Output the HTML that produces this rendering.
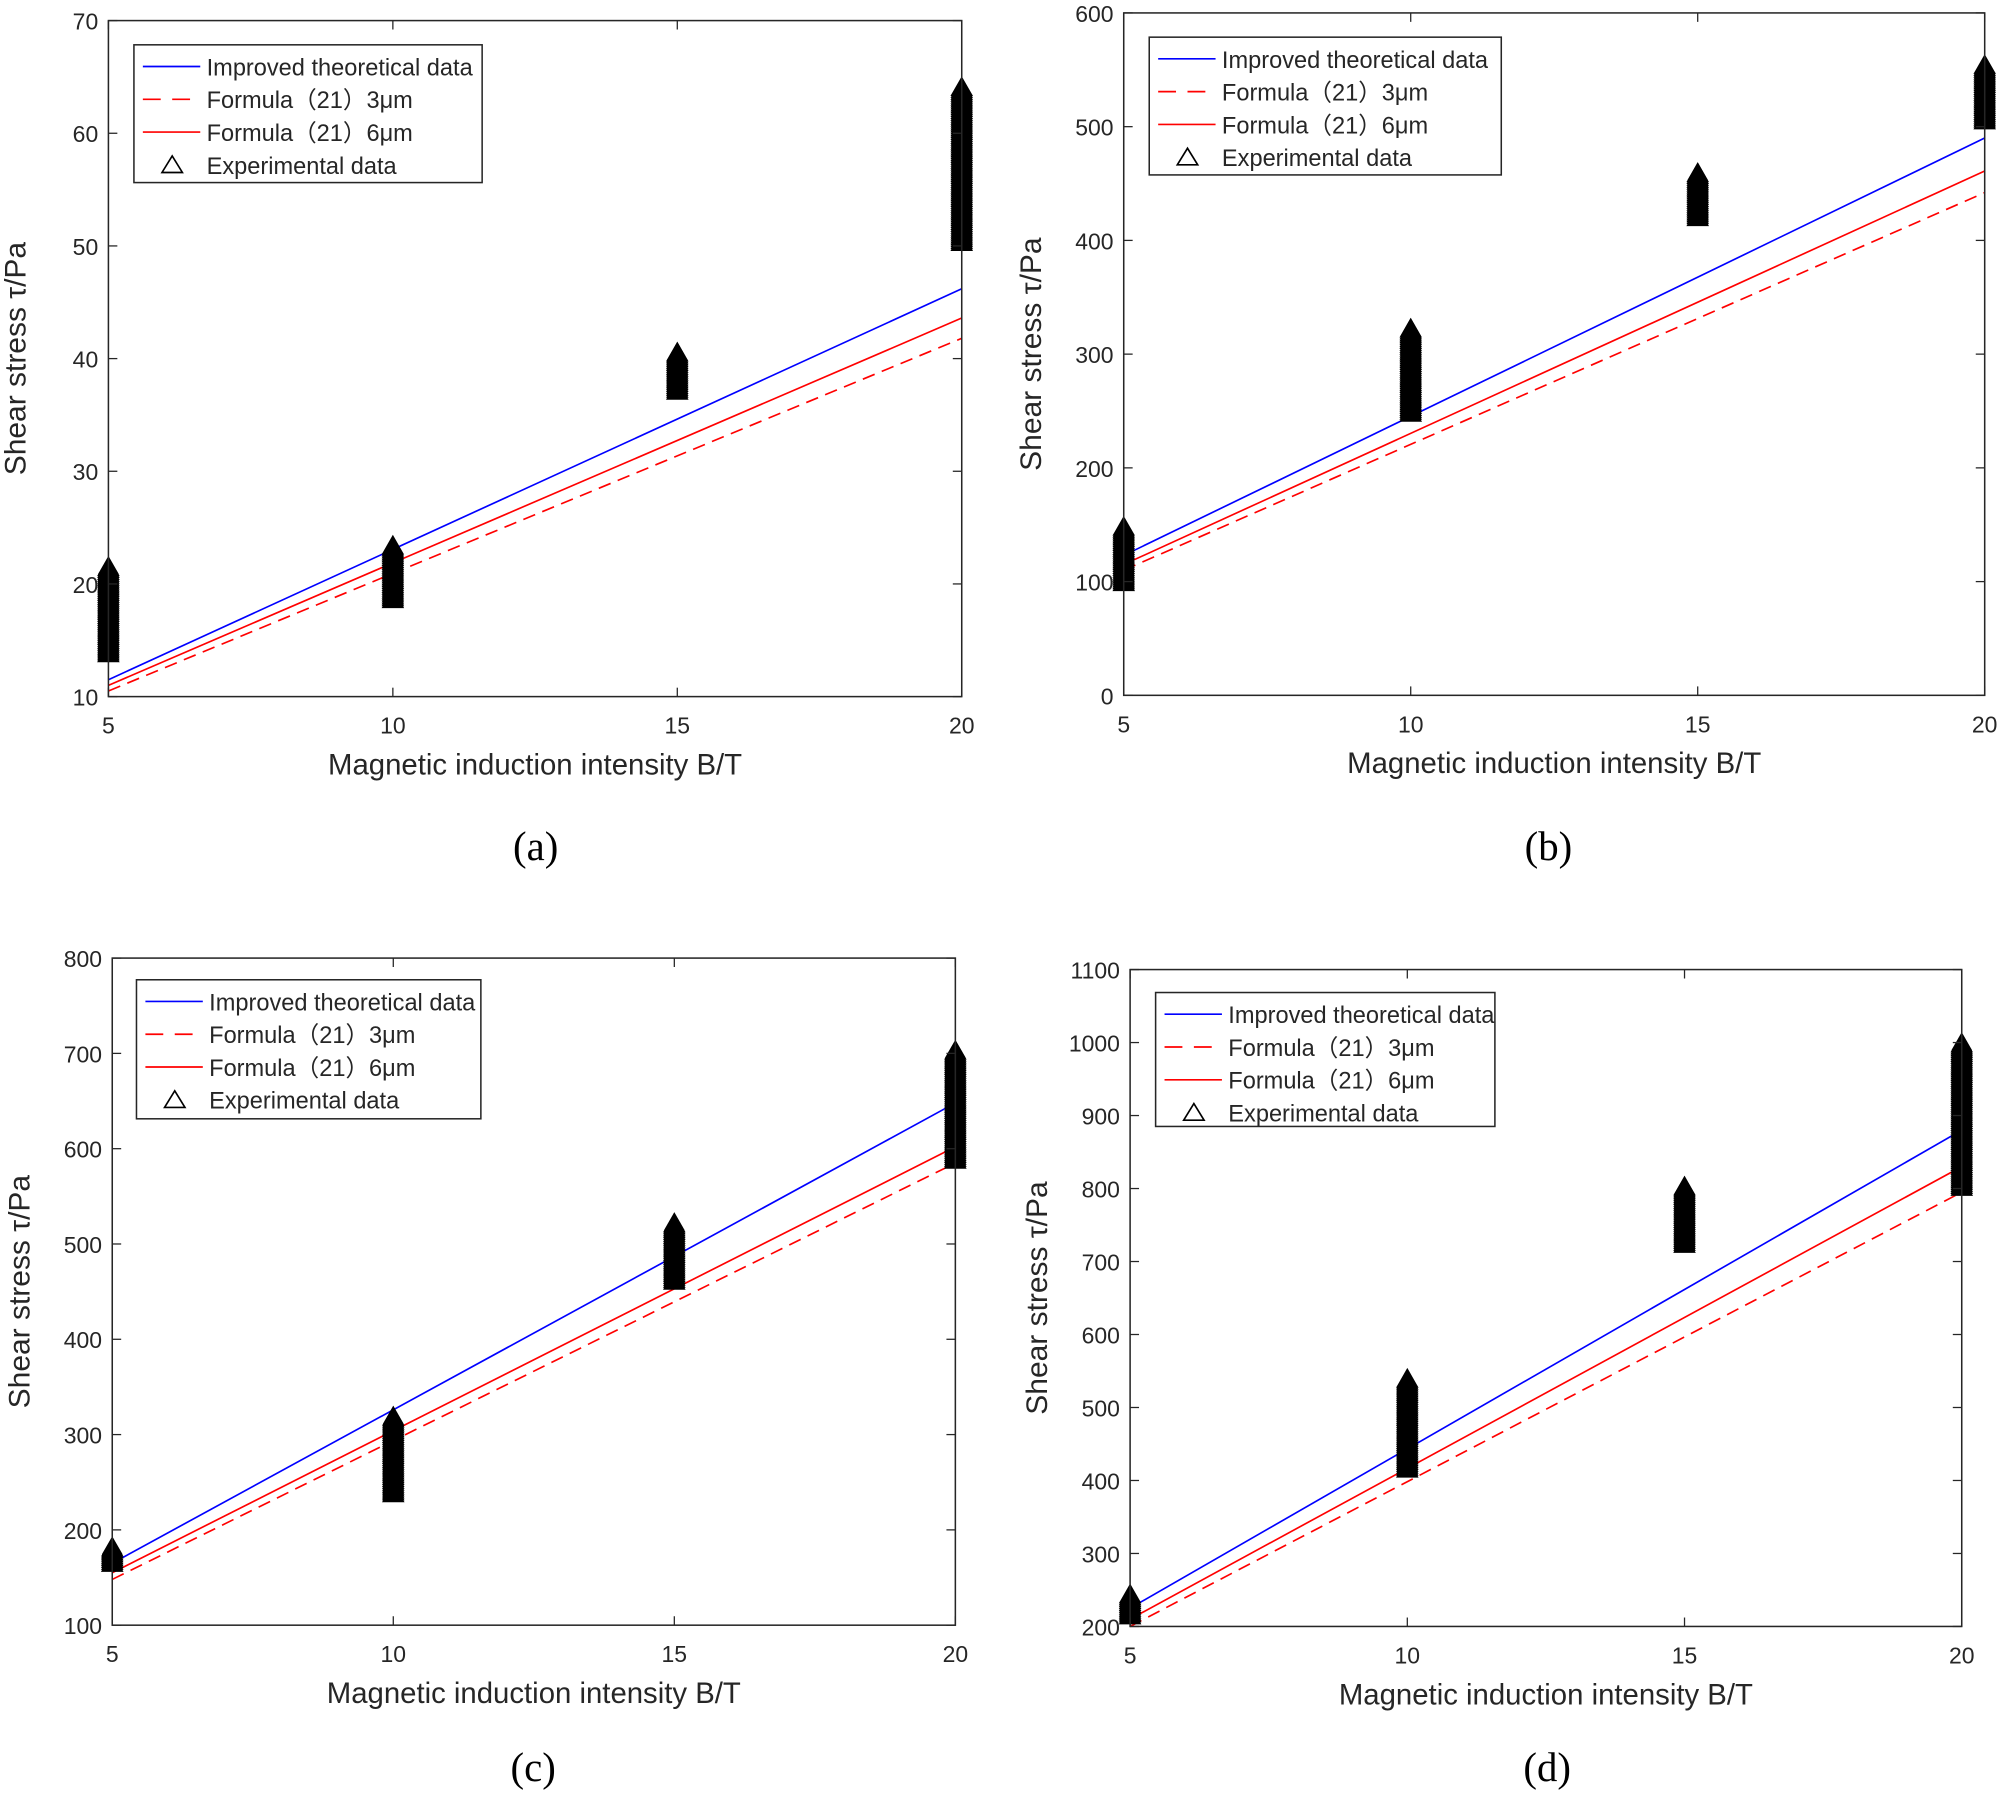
<!DOCTYPE html>
<html><head><meta charset="utf-8"><style>
html,body{margin:0;padding:0;background:#fff}
svg{display:block}
text{font-family:"Liberation Sans","Noto Sans CJK SC",sans-serif;fill:#262626}
.cap{font-family:"Liberation Serif",serif;fill:#000}
</style></head><body>
<svg id="chart" width="2000" height="1795" viewBox="0 0 1568 1407" xmlns="http://www.w3.org/2000/svg"></svg>
<script>
// shared x data
const xCats = [5, 10, 15, 20];
const xTicks = [5, 10, 15, 20];
// panel a
const aYTicks = [10, 20, 30, 40, 50, 60, 70];
const aImproved = [11.5, 46.2];
const aF3 = [10.5, 41.8];
const aF6 = [11.0, 43.6];
const aExpMin = [13.9, 18.7, 37.2, 50.4];
const aExpMax = [21.7, 23.5, 40.7, 64.2];
// panel b
const bYTicks = [0, 100, 200, 300, 400, 500, 600];
const bImproved = [123, 490];
const bF3 = [110, 442];
const bF6 = [115, 461];
const bExpMin = [100, 249, 421, 506];
const bExpMax = [149, 324, 461, 555];
// panel c
const cYTicks = [100, 200, 300, 400, 500, 600, 700, 800];
const cImproved = [165, 648];
const cF3 = [148, 585];
const cF6 = [155, 602];
const cExpMin = [166, 239, 462, 589];
const cExpMax = [184, 321, 524, 705];
// panel d
const dYTicks = [200, 300, 400, 500, 600, 700, 800, 900, 1000, 1100];
const dImproved = [225, 880];
const dF3 = [200, 795];
const dF6 = [210, 830];
const dExpMin = [216, 417, 725, 803];
const dExpMax = [245, 541, 805, 1002];

const NS = "http://www.w3.org/2000/svg";
const svg = document.getElementById('chart');
function mk(tag, attrs, parent, txt){
  const e = document.createElementNS(NS, tag);
  for (const k in attrs) e.setAttribute(k, attrs[k]);
  if (txt !== undefined) e.textContent = txt;
  (parent || svg).appendChild(e);
  return e;
}

function panel(id, box, yTicks, imp, f3, f6, eMin, eMax, leg, cap){
  const g = mk('g', {});
  
  
  const [L, T, R, B] = box;
  const y0 = yTicks[0], y1 = yTicks[yTicks.length - 1];
  const xs = v => L + (v - 5) / 15 * (R - L);
  const ys = v => B - (v - y0) / (y1 - y0) * (B - T);
  const ln = (arr, col, dash, name) => {
    const l = mk('line', {x1: xs(5), y1: ys(arr[0]), x2: xs(20), y2: ys(arr[1]), stroke: col, 'stroke-width': 1.3}, g);
    if (dash) l.setAttribute('stroke-dasharray', '10 6');
    
    
  };
  ln(imp, '#0000ff', false, 'improved-theoretical-line');
  ln(f3, '#ff0000', true, 'formula-3um-line');
  ln(f6, '#ff0000', false, 'formula-6um-line');
  xCats.forEach((xv, i) => {
    const sg = mk('g', {}, g);
    
    
    const top = ys(eMax[i]), bot = ys(eMin[i]);
    const cx = xs(xv);
    for (let yy = bot; yy >= top - 0.01; yy -= 1.5) {
      const p = mk('path', {d: `M${cx-8},${yy+7} L${cx},${yy-7} L${cx+8},${yy+7} Z`, fill: 'none', stroke: '#000', 'stroke-width': 1}, sg);
      
      
    }
    const r = mk('path', {d: `M${cx-8},${bot+7} L${cx-8},${top+7} L${cx},${top-7} L${cx+8},${top+7} L${cx+8},${bot+7} Z`, fill: '#000'}, sg);
    
    
  });
  const fr = mk('rect', {x: L, y: T, width: R - L, height: B - T, fill: 'none', stroke: '#262626', 'stroke-width': 1.2}, g);
  
  
  xTicks.forEach(v => {
    const x = xs(v);
    mk('line', {x1: x, y1: B, x2: x, y2: B - 7, stroke: '#262626'}, g);
    mk('line', {x1: x, y1: T, x2: x, y2: T + 7, stroke: '#262626'}, g);
    const t = mk('text', {x: x, y: B + 29, 'font-size': 18, 'text-anchor': 'middle'}, g, v);
    
    
  });
  yTicks.forEach(v => {
    const y = ys(v);
    mk('line', {x1: L, y1: y, x2: L + 7, y2: y, stroke: '#262626'}, g);
    mk('line', {x1: R, y1: y, x2: R - 7, y2: y, stroke: '#262626'}, g);
    const t = mk('text', {x: L - 8, y: y + 7, 'font-size': 18, 'text-anchor': 'end'}, g, v);
    
    
  });
  const xt = mk('text', {x: (L + R) / 2, y: B + 61, 'font-size': 23, 'text-anchor': 'middle'}, g, 'Magnetic induction intensity B/T');
  
  
  const yx = L - 65, yy = (T + B) / 2;
  const yt = mk('text', {x: yx, y: yy, 'font-size': 23.5, 'text-anchor': 'middle', transform: `rotate(-90 ${yx} ${yy})`}, g, 'Shear stress τ/Pa');
  
  
  const [lx, ly, lw, lh] = leg;
  const lg = mk('g', {}, g);
  
  
  mk('rect', {x: lx, y: ly, width: lw, height: lh, fill: '#fff', stroke: '#262626', 'stroke-width': 1.2}, lg);
  const labels = ['Improved theoretical data', 'Formula（21）3μm', 'Formula（21）6μm', 'Experimental data'];
  labels.forEach((s, i) => {
    const ry = ly + 17 + i * 25.7;
    const e = mk('g', {}, lg);
    
    
    if (i < 3) {
      const l = mk('line', {x1: lx + 7, y1: ry, x2: lx + 52, y2: ry, stroke: i ? '#ff0000' : '#0000ff', 'stroke-width': 1.3}, e);
      if (i === 1) l.setAttribute('stroke-dasharray', '14 9');
    } else {
      mk('path', {d: `M${lx+22},${ry+6} L${lx+30},${ry-7} L${lx+38},${ry+6} Z`, fill: 'none', stroke: '#000', 'stroke-width': 1.3}, e);
    }
    mk('text', {x: lx + 57, y: ry + 7, 'font-size': 18.5, fill: '#000'}, e, s);
  });
  const c = mk('text', {x: cap[0], y: cap[1], 'font-size': 32, 'text-anchor': 'middle', class: 'cap'}, g, cap[2]);
  
  
}

panel('a', [85, 16, 754, 546], aYTicks, aImproved, aF3, aF6, aExpMin, aExpMax, [105, 35, 273, 108], [420, 674, '(a)']);
panel('b', [881, 10, 1556, 545], bYTicks, bImproved, bF3, bF6, bExpMin, bExpMax, [901, 29, 276, 108], [1214, 674, '(b)']);
panel('c', [88, 751, 749, 1274], cYTicks, cImproved, cF3, cF6, cExpMin, cExpMax, [107, 768, 270, 109], [418, 1396, '(c)']);
panel('d', [886, 760, 1538, 1275], dYTicks, dImproved, dF3, dF6, dExpMin, dExpMax, [906, 778, 266, 105], [1213, 1396, '(d)']);
</script>
</body></html>
